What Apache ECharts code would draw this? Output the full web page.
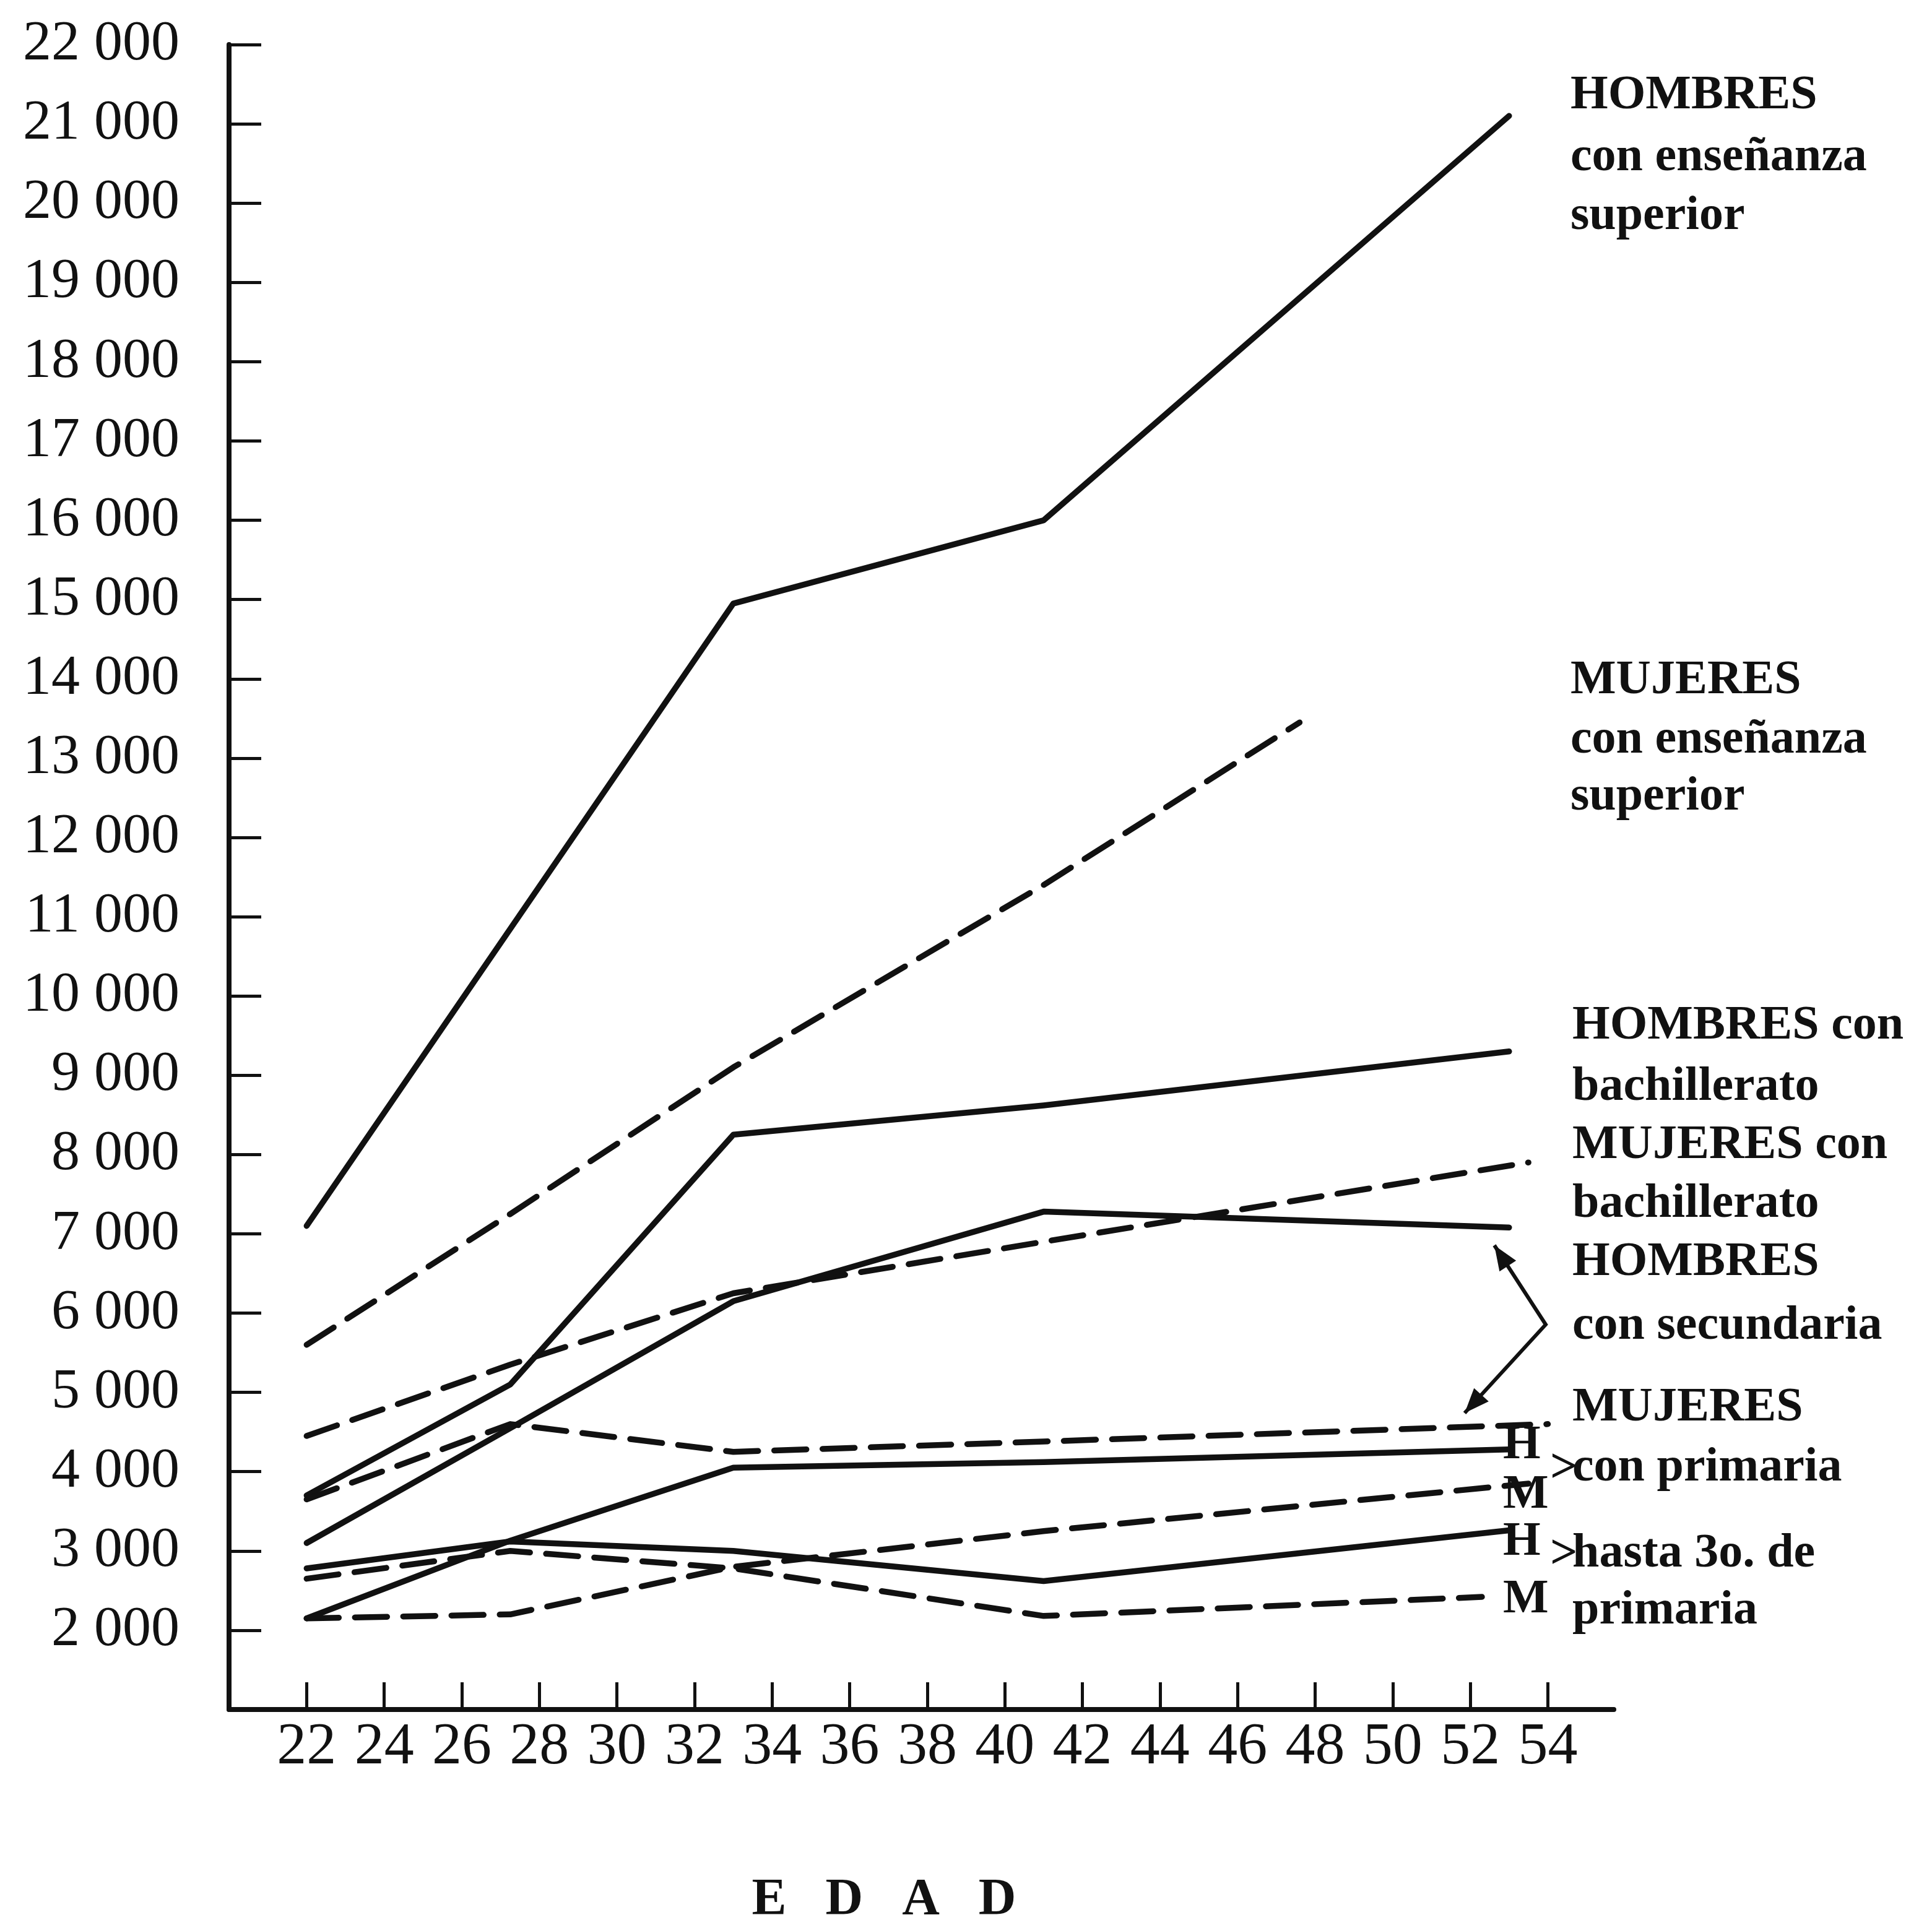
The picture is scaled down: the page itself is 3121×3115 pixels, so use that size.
<!DOCTYPE html>
<html><head><meta charset="utf-8">
<script src="https://cdn.jsdelivr.net/npm/echarts@6/dist/echarts.min.js"></script>
<style>html,body{margin:0;padding:0;background:#fff}#c{width:3121px;height:3115px}</style>
</head><body><div id="c"></div>
<script>
// ---- tick labels ----
const xTicks = [22,24,26,28,30,32,34,36,38,40,42,44,46,48,50,52,54];
const yTicks = [2000,3000,4000,5000,6000,7000,8000,9000,10000,11000,12000,13000,14000,15000,16000,17000,18000,19000,20000,21000,22000];

// ---- series (age, income) ----
const hSupAge = [22, 33, 41, 53];
const hSupVal = [7100, 14950, 16000, 21100];
const mSupAge = [22, 27.25, 33, 41, 47.6];
const mSupVal = [5600, 7250, 9100, 11400, 13450];
const hBachAge = [22, 27.25, 33, 41, 53];
const hBachVal = [3700, 5100, 8250, 8620, 9300];
const mBachAge = [22, 27.25, 33, 41, 53.5];
const mBachVal = [4450, 5350, 6250, 6900, 7900];
const hSecAge = [22, 27.25, 33, 41, 53];
const hSecVal = [3100, 4550, 6150, 7280, 7080];
const mSecAge = [22, 27.25, 33, 41, 54];
const mSecVal = [3650, 4600, 4250, 4380, 4600];
const hPrimAge = [22, 27.25, 33, 41, 53];
const hPrimVal = [2150, 3130, 4050, 4120, 4280];
const mPrimAge = [22, 27.25, 33, 41, 53.5];
const mPrimVal = [2150, 2200, 2800, 3250, 3850];
const h3Age = [22, 27.25, 33, 41, 53];
const h3Val = [2780, 3120, 3000, 2620, 3260];
const m3Age = [22, 27.25, 33, 41, 52.3];
const m3Val = [2650, 3000, 2780, 2180, 2420];

const INK = '#111';
function pairs(a, v){ return a.map((x,i)=>[x, v[i]]); }
function ser(name, a, v, dashed){
  return {
    name, type:'line', data: pairs(a,v), symbol:'none', silent:true,
    lineStyle:{color:INK, width:9.5, type: dashed ? [52,26] : 'solid', cap:'round', join:'round'}
  };
}
const series = [
  ser('HOMBRES con enseñanza superior', hSupAge, hSupVal, false),
  ser('MUJERES con enseñanza superior', mSupAge, mSupVal, true),
  ser('HOMBRES con bachillerato', hBachAge, hBachVal, false),
  ser('MUJERES con bachillerato', mBachAge, mBachVal, true),
  ser('HOMBRES con secundaria', hSecAge, hSecVal, false),
  ser('MUJERES con secundaria', mSecAge, mSecVal, true),
  ser('H con primaria', hPrimAge, hPrimVal, false),
  ser('M con primaria', mPrimAge, mPrimVal, true),
  ser('H hasta 3o. de primaria', h3Age, h3Val, false),
  ser('M hasta 3o. de primaria', m3Age, m3Val, true)
];

// ---- annotation layout ----
const FONT = '"Liberation Serif", "DejaVu Serif", serif';
const notes = [
  ['HOMBRES', 2537, 155], ['con enseñanza', 2537, 255], ['superior', 2537, 350],
  ['MUJERES', 2537, 1100], ['con enseñanza', 2537, 1196], ['superior', 2537, 1288],
  ['HOMBRES con', 2540, 1658], ['bachillerato', 2540, 1757],
  ['MUJERES con', 2540, 1851], ['bachillerato', 2540, 1946],
  ['HOMBRES', 2540, 2040], ['con secundaria', 2540, 2143],
  ['MUJERES', 2540, 2275], ['con primaria', 2540, 2372],
  ['hasta 3o. de', 2540, 2511], ['primaria', 2540, 2603],
  ['H', 2428, 2336], ['M', 2428, 2416], ['H', 2428, 2492], ['M', 2428, 2585],
  ['>', 2504, 2374], ['>', 2504, 2513]
];
const graphic = notes.map(n => ({
  type:'text', x:n[1], y:n[2], silent:true,
  style:{text:n[0], fill:INK, font:'bold 78px ' + FONT, align:'left', verticalAlign:'middle'}
}));
graphic.push({
  type:'text', x:1428, y:3071, silent:true,
  style:{text:'E   D   A   D', fill:INK, font:'bold 84px ' + FONT, align:'center', verticalAlign:'middle'}
});
// arrows from brace
function arrowHead(tip, from){
  const dx = tip[0]-from[0], dy = tip[1]-from[1], L = Math.hypot(dx,dy);
  const ux = dx/L, uy = dy/L, px = -uy, py = ux, len = 40, hw = 16;
  const bx = tip[0]-ux*len, by = tip[1]-uy*len;
  return {type:'polygon', silent:true, shape:{points:[tip,[bx+px*hw,by+py*hw],[bx-px*hw,by-py*hw]]}, style:{fill:INK}};
}
const vtx = [2497, 2140], tip1 = [2414, 2012], tip2 = [2366, 2283];
graphic.push({type:'polyline', silent:true, shape:{points:[tip1, vtx, tip2]}, style:{stroke:INK, lineWidth:6, fill:null}});
graphic.push(arrowHead(tip1, vtx));
graphic.push(arrowHead(tip2, vtx));

const chart = echarts.init(document.getElementById('c'), null, {renderer:'canvas'});
chart.setOption({
  backgroundColor:'#fff',
  animation:false,
  grid:{left:370, right:514, top:72, bottom:353, containLabel:false, outerBoundsMode:'none'},
  xAxis:{
    type:'value', min:20, max:55.7, interval:2,
    axisLine:{show:true, onZero:false, lineStyle:{color:INK, width:8}},
    axisTick:{show:true, inside:true, length:44, customValues:xTicks, lineStyle:{color:INK, width:5}},
    axisLabel:{customValues:xTicks, color:INK, fontSize:96, fontFamily:FONT, margin:14},
    splitLine:{show:false}
  },
  yAxis:{
    type:'value', min:1000, max:22000, interval:1000,
    axisLine:{show:true, onZero:false, lineStyle:{color:INK, width:8}},
    axisTick:{show:true, inside:true, length:52, customValues:yTicks, lineStyle:{color:INK, width:5}},
    axisLabel:{customValues:yTicks, color:INK, fontSize:92, fontFamily:FONT, margin:80,
      formatter: v => Math.round(v/1000) + ' 000'},
    splitLine:{show:false}
  },
  series,
  graphic
});
</script></body></html>
